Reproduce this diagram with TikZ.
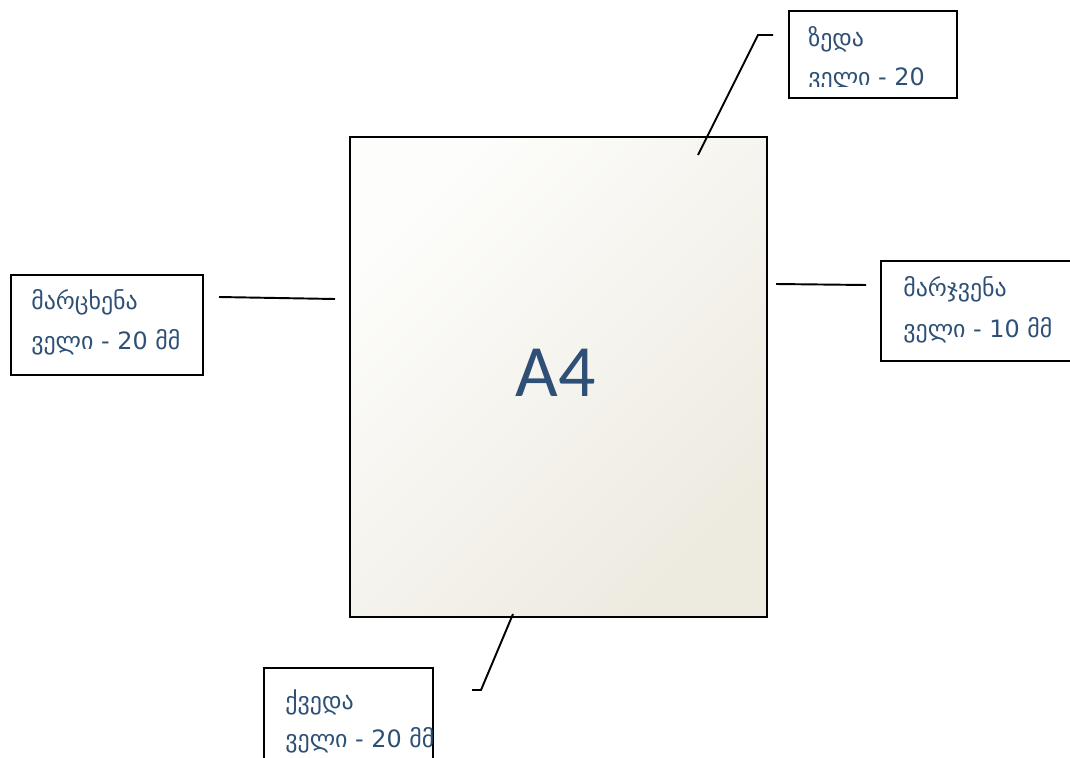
\documentclass[tikz,border=0pt]{standalone}
\usepackage{fontspec}
\setmainfont{DejaVu Sans}
\newfontfamily\pagefont{Carlito}
\usepackage{tikz}
\usetikzlibrary{positioning,calc}
\definecolor{labelblue}{HTML}{2E5076}
\definecolor{paperlight}{HTML}{FDFDFB}
\definecolor{paperdark}{HTML}{EDEAE0}

\begin{document}
\begin{tikzpicture}[
  x=0.02cm, y=-0.02cm,
  box/.style={draw, line width=1.5pt},
  conn/.style={line width=1.1pt, color=black},
  lbl/.style={anchor=base west, inner sep=0pt, text=labelblue, font=\fontsize{13.6}{15}\selectfont},
]
  \useasboundingbox (0,0) rectangle (1070,757);

  % page
  \shade[left color=paperlight, right color=paperdark, shading angle=45]
    (350,137) rectangle (767,617);
  \draw[line width=1pt] (350,137) rectangle (767,617);
  \node[text=labelblue, font=\pagefont\fontsize{42}{48}\selectfont] (page) at (556,373) {A4};

  % label boxes
  \draw[box] (789,11) rectangle (957,98);
  \begin{scope}
    \clip (791,13) rectangle (955,87);
    \node[lbl] (top1) at (808,47) {ზედა};
    \node[lbl] (top2) at (808,86) {ველი - 20};
  \end{scope}

  \draw[box] (11,275) rectangle (203,375);
  \node[lbl] (left1) at (31,309) {მარცხენა};
  \node[lbl] (left2) at (31,349) {ველი - 20 მმ};

  \draw[box] (881,261) rectangle (1080,361);
  \node[lbl] (right1) at (903,296) {მარჯვენა};
  \node[lbl] (right2) at (903,337) {ველი - 10 მმ};

  \draw[box] (264,668) rectangle (433,770);
  \node[lbl] (bot1) at (285,709) {ქვედა};
  \node[lbl] (bot2) at (285,747) {ველი - 20 მმ};

  % connectors
  \coordinate (topA) at (698,155);
  \coordinate (topB) at (758,35);
  \coordinate (topC) at (773,35);
  \coordinate (leftA) at (219,297);
  \coordinate (leftB) at (335,299);
  \coordinate (rightA) at (776,284);
  \coordinate (rightB) at (866,285);
  \coordinate (botA) at (513,614);
  \coordinate (botB) at (481,690);
  \coordinate (botC) at (472,690);

  \draw[conn] (topA) -- (topB) -- (topC);
  \draw[conn] (leftA) -- (leftB);
  \draw[conn] (rightA) -- (rightB);
  \draw[conn] (botA) -- (botB) -- (botC);
\end{tikzpicture}
\end{document}
